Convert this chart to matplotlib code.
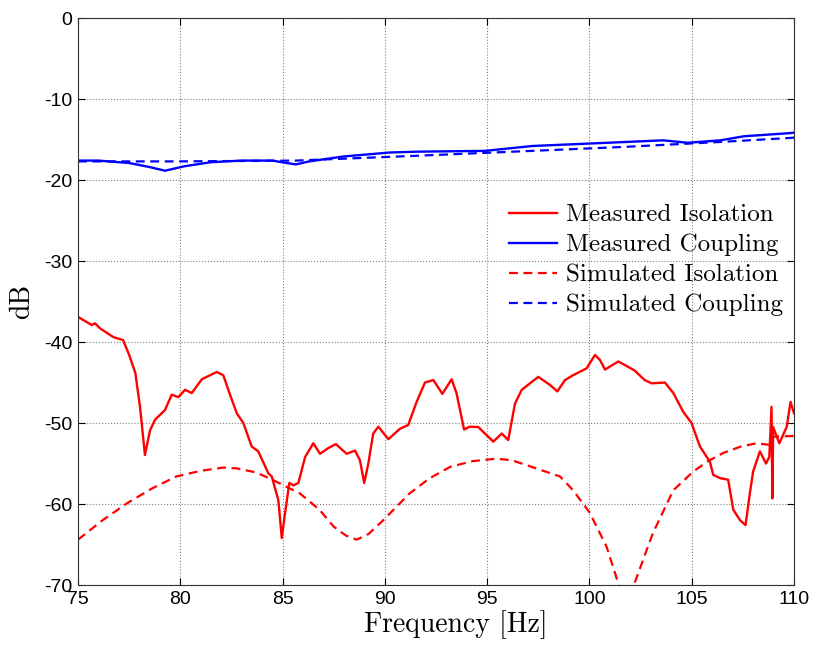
import numpy as np
import matplotlib
matplotlib.use("Agg")
import matplotlib.pyplot as plt

# ---------- 데이터 ----------
meas_iso_f = [75.0, 75.67, 75.83, 76.07, 76.73, 77.2, 77.5, 77.8, 78.03, 78.27, 78.52, 78.76,
              79.25, 79.58, 79.9, 80.23, 80.56, 81.05, 81.37, 81.78, 82.1, 82.43, 82.76, 83.08,
              83.49, 83.81, 84.3, 84.47, 84.79, 84.96, 85.12, 85.33, 85.53, 85.77, 86.1, 86.5,
              86.83, 87.23, 87.6, 88.13, 88.54, 88.78, 88.99, 89.19, 89.43, 89.68, 90.17, 90.74,
              91.14, 91.55, 91.96, 92.37, 92.81, 93.26, 93.5, 93.87, 94.16, 94.57, 94.81, 95.3,
              95.71, 96.03, 96.36, 96.69, 97.09, 97.5, 98.07, 98.43, 98.8, 99.2, 99.86, 100.27,
              100.51, 100.76, 101.41, 102.2, 102.7, 103.04, 103.69, 104.1, 104.58, 104.99, 105.4,
              105.89, 106.05, 106.38, 106.78, 107.03, 107.36, 107.63, 107.84, 108.0, 108.33,
              108.63, 108.79, 108.9, 108.94, 108.98, 109.28, 109.64, 109.83, 110.0]
meas_iso_db = [-36.9, -37.9, -37.7, -38.3, -39.4, -39.75, -41.6, -43.8, -48.0, -53.95, -50.9, -49.6,
               -48.4, -46.5, -46.8, -45.9, -46.3, -44.6, -44.2, -43.7, -44.1, -46.5, -48.8, -50.0,
               -52.9, -53.5, -56.2, -56.6, -59.5, -64.2, -61.1, -57.4, -57.7, -57.4, -54.2, -52.5,
               -53.8, -53.1, -52.6, -53.8, -53.4, -54.6, -57.4, -55.0, -51.3, -50.45, -52.0, -50.7,
               -50.25, -47.4, -45.0, -44.7, -46.4, -44.6, -46.3, -50.8, -50.45, -50.5, -51.1, -52.3,
               -51.3, -52.1, -47.6, -45.9, -45.1, -44.3, -45.3, -46.1, -44.7, -44.1, -43.25, -41.6,
               -42.2, -43.4, -42.4, -43.5, -44.7, -45.1, -45.0, -46.3, -48.6, -50.0, -52.9,
               -54.8, -56.4, -56.8, -57.0, -60.7, -62.0, -62.6, -58.7, -56.0, -53.5,
               -55.0, -54.2, -48.0, -59.3, -50.5, -52.5, -50.5, -47.4, -48.8]

sim_iso_f = [75.0, 76.2, 77.4, 78.6, 79.8, 81.0, 82.1, 82.76, 83.7, 84.5, 85.85, 86.8, 87.5,
             88.1, 88.62, 89.2, 89.92, 91.2, 92.2, 93.2, 94.3, 95.46, 96.2, 96.93, 98.56, 99.2,
             100.02, 100.84, 101.41, 101.8, 102.2, 103.1, 104.1, 105.07, 105.8, 106.54, 107.4,
             108.17, 108.8, 108.98, 109.95, 110.0]
sim_iso_db = [-64.4, -62.0, -59.9, -58.1, -56.6, -55.9, -55.5, -55.6, -56.1, -57.0, -58.7, -60.7,
              -62.8, -63.9, -64.4, -63.7, -62.0, -58.7, -56.8, -55.4, -54.7, -54.4, -54.6, -55.2,
              -56.6, -58.3, -61.1, -65.3, -69.8, -76.0, -69.8, -63.6, -58.3, -56.0, -54.7, -53.7,
              -52.9, -52.5, -52.7, -51.7, -51.6, -51.6]

meas_cpl_f = [75.0, 76.0, 77.5, 78.5, 79.25, 80.2, 81.5, 83.0, 84.5, 85.2, 85.65, 86.3, 87.95,
              90.25, 91.6, 94.9, 97.2, 99.5, 101.8, 103.6, 104.8, 106.4, 107.55, 109.85, 110.0]
meas_cpl_db = [-17.6, -17.6, -17.9, -18.4, -18.85, -18.3, -17.8, -17.6, -17.6, -17.9, -18.07,
               -17.7, -17.1, -16.6, -16.5, -16.4, -15.8, -15.55, -15.3, -15.1, -15.4, -15.1,
               -14.6, -14.2, -14.15]

sim_cpl_f = [75.0, 80.0, 85.65, 91.6, 97.2, 101.8, 106.4, 109.85, 110.0]
sim_cpl_db = [-17.7, -17.7, -17.6, -17.0, -16.4, -15.9, -15.3, -14.8, -14.75]

# ---------- 그림 ----------
plt.rcParams["axes.unicode_minus"] = False
label_font = "cmr10"
tick_font = "Liberation Sans"

fig = plt.figure(figsize=(8.18, 6.46), dpi=100)
ax = fig.add_axes([0.0954, 0.0944, 0.8753, 0.8777])

ax.plot(meas_iso_f, meas_iso_db, color="#ff0000", lw=1.7, label="Measured Isolation")
ax.plot(meas_cpl_f, meas_cpl_db, color="#0000ff", lw=1.7, label="Measured Coupling")
ax.plot(sim_iso_f, sim_iso_db, color="#ff0000", lw=1.6, ls=(0, (4, 2.5)), label="Simulated Isolation")
ax.plot(sim_cpl_f, sim_cpl_db, color="#0000ff", lw=1.6, ls=(0, (4, 2.5)), label="Simulated Coupling")

ax.set_xlim(75, 110)
ax.set_ylim(-70, 0)
ax.set_xticks(np.arange(75, 111, 5))
ax.set_yticks(np.arange(-70, 1, 10))
ax.grid(True, ls=":", color="#808080", lw=0.8)
ax.tick_params(direction="in", top=True, right=True, length=5, labelsize=14, pad=4)
for lbl in ax.get_xticklabels() + ax.get_yticklabels():
    lbl.set_family(tick_font)
for s in ax.spines.values():
    s.set_color("#333333")

ax.set_xlabel("Frequency [Hz]", family=label_font, fontsize=20)
ax.xaxis.set_label_coords(0.527, -0.044)
ax.set_ylabel("dB", family=label_font, fontsize=20)
ax.yaxis.set_label_coords(-0.060, 0.5)

leg = ax.legend(loc="upper right", bbox_to_anchor=(0.998, 0.69), frameon=False,
                prop={"family": label_font, "size": 18}, handlelength=1.9,
                labelspacing=0.3, handletextpad=0.35, borderaxespad=0)

fig.savefig("out.png", dpi=100)
